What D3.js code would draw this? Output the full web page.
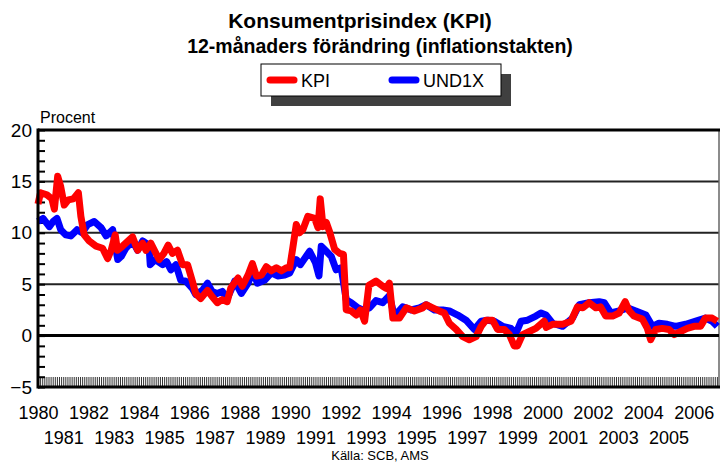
<!DOCTYPE html>
<html>
<head>
<meta charset="utf-8">
<script src="https://cdn.jsdelivr.net/npm/d3@7"></script>
<style>
  body { margin: 0; background: #fff; }
  text { font-family: "Liberation Sans", Arial, sans-serif; }
</style>
</head>
<body>
<svg id="chart"></svg>
<script>
// data (decimal years, percent)
const kpiTime = [1980.0,1980.1,1980.35,1980.55,1980.65,1980.78,1980.9,1981.04,1981.2,1981.4,1981.6,1981.7,1981.83,1982.03,1982.3,1982.56,1982.76,1982.9,1983.06,1983.15,1983.35,1983.75,1983.95,1984.15,1984.28,1984.47,1984.8,1984.99,1985.16,1985.33,1985.53,1985.73,1985.93,1986.12,1986.25,1986.45,1986.72,1986.9,1987.11,1987.3,1987.5,1987.64,1987.75,1987.93,1988.1,1988.33,1988.5,1988.66,1988.86,1989.05,1989.25,1989.45,1989.65,1989.85,1989.98,1990.1,1990.24,1990.37,1990.5,1990.7,1990.97,1991.1,1991.19,1991.3,1991.43,1991.56,1991.76,1991.96,1992.11,1992.22,1992.42,1992.62,1992.78,1992.95,1993.12,1993.4,1993.67,1993.8,1993.93,1994.07,1994.33,1994.6,1994.92,1995.25,1995.39,1995.65,1995.91,1996.11,1996.31,1996.58,1996.84,1997.1,1997.37,1997.57,1997.76,1998.02,1998.22,1998.49,1998.69,1998.88,1999.01,1999.21,1999.48,1999.74,2000.07,2000.15,2000.4,2000.8,2001.13,2001.39,2001.6,2001.85,2002.12,2002.3,2002.51,2002.78,2003.04,2003.28,2003.44,2003.63,2003.96,2004.16,2004.29,2004.49,2004.75,2005.02,2005.22,2005.48,2005.74,2006.01,2006.27,2006.46,2006.73,2006.93];
const kpiValues = [12.8,13.9,13.7,13.3,12.3,15.5,14.5,12.7,13.2,13.3,13.9,11.6,9.8,9.2,8.7,8.5,7.5,8.3,9.8,8.3,8.7,9.6,8.3,9.0,8.3,9.0,7.4,8.0,8.8,8.0,8.3,6.9,6.9,5.3,4.1,3.6,4.4,3.8,3.2,3.5,3.3,4.6,5.0,5.6,4.8,5.9,7.0,5.8,5.9,6.7,6.3,6.6,6.3,6.6,6.6,8.5,10.8,10.0,10.3,11.6,11.4,10.5,13.3,10.6,11.0,10.1,8.4,8.0,7.9,2.5,2.4,2.0,2.5,1.4,4.9,5.3,4.8,4.6,5.1,1.7,1.7,2.7,2.4,2.7,3.0,2.7,2.4,2.2,1.2,0.6,-0.1,-0.4,-0.1,0.9,1.5,1.5,0.6,0.6,0.1,-1.0,-1.0,0.1,0.4,0.7,1.4,0.8,1.1,1.1,1.4,2.8,2.7,3.2,2.7,2.8,1.9,1.9,2.2,3.3,2.4,1.9,1.6,0.7,-0.4,0.6,0.7,0.6,0.1,0.4,0.7,0.9,0.9,1.7,1.7,1.4];

const undTime = [1980.0,1980.2,1980.45,1980.6,1980.75,1980.9,1981.1,1981.3,1981.55,1981.75,1981.97,1982.23,1982.5,1982.7,1982.96,1983.16,1983.3,1983.48,1983.75,1983.95,1984.15,1984.4,1984.45,1984.65,1984.94,1985.1,1985.27,1985.47,1985.66,1985.86,1986.12,1986.25,1986.52,1986.72,1986.9,1987.1,1987.31,1987.5,1987.7,1987.8,1988.06,1988.33,1988.52,1988.7,1988.99,1989.25,1989.5,1989.78,1989.98,1990.24,1990.4,1990.77,1991.0,1991.14,1991.23,1991.43,1991.63,1991.82,1992.02,1992.22,1992.42,1992.68,1992.88,1993.14,1993.4,1993.67,1993.93,1994.13,1994.46,1994.79,1995.12,1995.39,1995.72,1996.05,1996.31,1996.64,1996.97,1997.3,1997.57,1997.83,1998.09,1998.42,1998.75,1998.95,1999.15,1999.41,1999.74,1999.94,2000.14,2000.4,2000.8,2001.19,2001.46,2001.85,2002.25,2002.45,2002.71,2003.04,2003.37,2003.7,2004.1,2004.36,2004.62,2004.95,2005.28,2005.68,2006.08,2006.46,2006.73,2006.93];
const undValues = [11.1,11.4,10.6,11.1,11.4,10.3,9.8,9.7,10.3,10.0,10.8,11.1,10.5,9.7,10.3,7.4,7.7,8.5,9.2,8.3,9.2,8.8,6.9,7.4,6.9,7.2,6.4,6.9,5.4,5.3,4.6,4.0,4.4,5.1,4.3,4.1,4.3,3.6,4.7,5.3,4.1,5.1,6.3,5.1,5.4,6.1,5.8,5.9,6.1,7.4,6.9,8.2,7.1,5.8,8.7,8.2,7.7,6.4,6.6,3.5,3.2,2.7,2.5,2.7,3.4,3.2,3.9,1.9,2.8,2.5,2.7,3.0,2.5,2.5,2.4,2.0,1.5,0.6,1.4,1.5,1.4,0.9,0.7,0.2,1.4,1.5,1.9,2.2,2.0,1.2,0.9,1.7,3.0,3.2,3.3,3.2,2.2,2.4,2.7,2.4,2.0,0.9,1.2,1.1,0.9,1.1,1.4,1.7,1.4,0.9];

const yearTicks = d3.range(1980, 2007);
const yLabels = [-5, 0, 5, 10, 15, 20];
const gridValues = [5, 10, 15];

const width = 721;
const height = 464;
const plot = { left: 38, right: 719, top: 130, bottom: 387 };

const svg = d3.select('#chart')
    .attr('width', width)
    .attr('height', height);

svg.append('rect').attr('width', width).attr('height', height).attr('fill', '#fff');

const xScale = d3.scaleLinear()
    .domain([1980, 2007])
    .range([plot.left, plot.right]);

const yScale = d3.scaleLinear()
    .domain([-5, 20])
    .range([plot.bottom, plot.top]);

// titles
svg.append('text')
    .attr('x', 360).attr('y', 28)
    .attr('text-anchor', 'middle')
    .style('font-size', '21px').style('font-weight', 'bold')
    .text('Konsumentprisindex (KPI)');

svg.append('text')
    .attr('x', 380).attr('y', 53)
    .attr('text-anchor', 'middle')
    .style('font-size', '19.5px').style('font-weight', 'bold')
    .text('12-månaders förändring (inflationstakten)');

// legend with drop shadow
const legend = svg.append('g').attr('transform', 'translate(261,64)');
legend.append('rect').attr('x', 10).attr('y', 10).attr('width', 240).attr('height', 32).attr('fill', '#404040');
legend.append('rect').attr('x', 0).attr('y', 0).attr('width', 240).attr('height', 32)
    .attr('fill', '#fff').attr('stroke', '#000').attr('stroke-width', 1);

const keys = [{ color: '#ff0000', label: 'KPI', x: 6 }, { color: '#0000ff', label: 'UND1X', x: 128 }];
legend.selectAll('.key-line')
    .data(keys)
    .enter()
    .append('line')
    .attr('x1', d => d.x + 3).attr('x2', d => d.x + 27)
    .attr('y1', 16).attr('y2', 16)
    .attr('stroke', d => d.color).attr('stroke-width', 7).attr('stroke-linecap', 'round');
legend.selectAll('.key-text')
    .data(keys)
    .enter()
    .append('text')
    .attr('x', d => d.x + 34).attr('y', 23)
    .style('font-size', '18px')
    .text(d => d.label);

svg.append('text')
    .attr('x', 40).attr('y', 123)
    .style('font-size', '16px')
    .text('Procent');

// grid lines
svg.selectAll('.grid')
    .data(gridValues)
    .enter()
    .append('line')
    .attr('x1', plot.left).attr('x2', plot.right)
    .attr('y1', d => yScale(d)).attr('y2', d => yScale(d))
    .attr('stroke', '#222').attr('stroke-width', 2);

// right border
svg.append('line')
    .attr('x1', plot.right).attr('x2', plot.right)
    .attr('y1', plot.top).attr('y2', plot.bottom)
    .attr('stroke', '#666').attr('stroke-width', 1.5);

// monthly ticks along the bottom
const monthTicks = d3.range(0, 27 * 12).map(i => 1980 + i / 12);
svg.append('g')
    .attr('transform', `translate(0,${plot.bottom})`)
    .call(d3.axisBottom(xScale).tickValues(monthTicks).tickSize(-10).tickFormat(''))
    .call(g => g.select('.domain').remove())
    .call(g => g.selectAll('line').attr('stroke', '#333').attr('stroke-width', 1));

// year labels, even years on first row, odd on second
const xAxis = svg.append('g')
    .attr('transform', `translate(0,${plot.bottom})`)
    .call(d3.axisBottom(xScale).tickValues(yearTicks).tickSize(0).tickFormat(d3.format('d')));
xAxis.select('.domain').remove();
xAxis.selectAll('text')
    .attr('y', d => d % 2 === 0 ? 19 : 44)
    .attr('dy', '0.71em')
    .style('font-size', '18px')
    .attr('fill', '#000');

// y minor ticks inside
svg.append('g')
    .attr('transform', `translate(${plot.left},0)`)
    .call(d3.axisRight(yScale).tickValues(d3.range(-5, 21)).tickSize(7).tickFormat(''))
    .call(g => g.select('.domain').remove())
    .call(g => g.selectAll('line').attr('stroke', '#000').attr('stroke-width', 2));

// y labels
const yAxis = svg.append('g')
    .attr('transform', `translate(${plot.left},0)`)
    .call(d3.axisLeft(yScale).tickValues(yLabels).tickSize(0).tickPadding(6));
yAxis.select('.domain').remove();
yAxis.selectAll('text').style('font-size', '19px').attr('fill', '#000');

// series
const seriesLine = d3.line().x(d => xScale(d[0])).y(d => yScale(d[1]));
svg.append('path')
    .datum(undTime.map((t, i) => [t, undValues[i]]))
    .attr('d', seriesLine)
    .attr('fill', 'none').attr('stroke', '#0000ff').attr('stroke-width', 7)
    .attr('stroke-linejoin', 'round');

svg.append('path')
    .datum(kpiTime.map((t, i) => [t, kpiValues[i]]))
    .attr('d', seriesLine)
    .attr('fill', 'none').attr('stroke', '#ff0000').attr('stroke-width', 7)
    .attr('stroke-linejoin', 'round');

// frame lines
svg.append('line')
    .attr('x1', plot.left).attr('x2', plot.right)
    .attr('y1', yScale(0)).attr('y2', yScale(0))
    .attr('stroke', '#000').attr('stroke-width', 3);
svg.append('line')
    .attr('x1', plot.left).attr('x2', plot.right + 1)
    .attr('y1', plot.top).attr('y2', plot.top)
    .attr('stroke', '#000').attr('stroke-width', 3);
svg.append('line')
    .attr('x1', plot.left).attr('x2', plot.right + 1)
    .attr('y1', plot.bottom).attr('y2', plot.bottom)
    .attr('stroke', '#000').attr('stroke-width', 3);
svg.append('line')
    .attr('x1', plot.left).attr('x2', plot.left)
    .attr('y1', plot.top - 1.5).attr('y2', plot.bottom + 1.5)
    .attr('stroke', '#000').attr('stroke-width', 3);

svg.append('text')
    .attr('x', 380).attr('y', 460)
    .attr('text-anchor', 'middle')
    .style('font-size', '13px')
    .text('Källa: SCB, AMS');
</script>
</body>
</html>
